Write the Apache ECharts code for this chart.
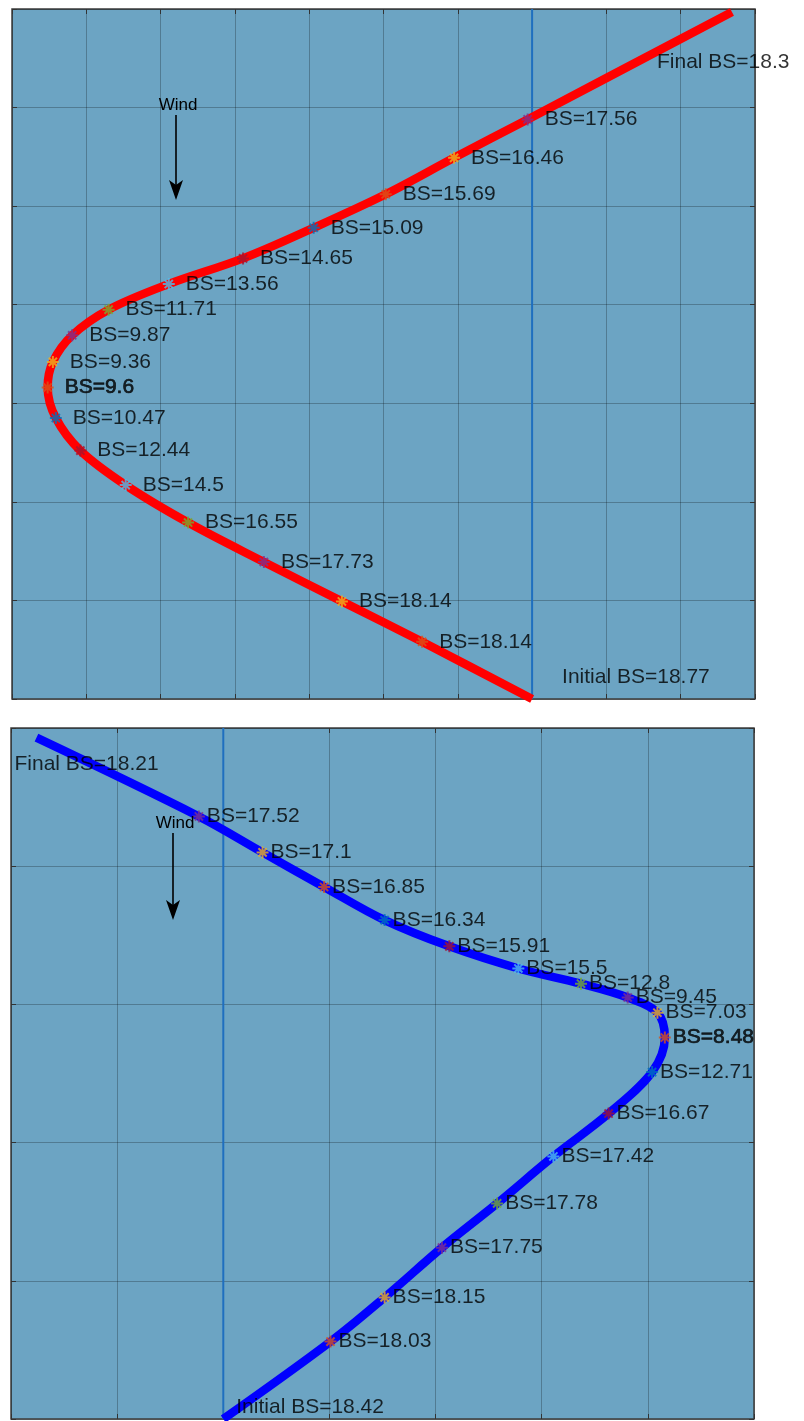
<!DOCTYPE html>
<html>
<head>
<meta charset="utf-8">
<title>Boat speed along the tack</title>
<script src="https://cdn.jsdelivr.net/npm/echarts@6/dist/echarts.min.js"></script>
<style>
  html, body { margin: 0; padding: 0; background: #ffffff; }
  #chart { width: 804px; height: 1421px; }
</style>
</head>
<body>
<div id="chart"></div>
<script>
// Upper manoeuvre (red track): positions in grid units, start -> finish
const upperX  = [7.00, 5.52, 4.44, 3.39, 2.37, 1.53, 0.92, 0.59, 0.48, 0.55, 0.81, 1.30, 2.11, 3.11, 4.06, 5.03, 5.95, 6.94, 9.69];
const upperY  = [0.00, 0.58, 0.99, 1.39, 1.79, 2.17, 2.52, 2.85, 3.16, 3.42, 3.69, 3.95, 4.21, 4.47, 4.78, 5.12, 5.49, 5.88, 6.97];
const upperBS = [18.77, 18.14, 18.14, 17.73, 16.55, 14.5, 12.44, 10.47, 9.6, 9.36, 9.87, 11.71, 13.56, 14.65, 15.09, 15.69, 16.46, 17.56, 18.3];

// Lower manoeuvre (blue track): positions in grid units, start -> finish
const lowerX  = [2.00, 3.01, 3.52, 4.06, 4.58, 5.11, 5.63, 6.04, 6.16, 6.09, 5.81, 5.37, 4.78, 4.13, 3.52, 2.95, 2.37, 1.77, 0.24];
const lowerY  = [0.00, 0.56, 0.88, 1.24, 1.56, 1.90, 2.21, 2.51, 2.76, 2.94, 3.05, 3.15, 3.26, 3.42, 3.61, 3.85, 4.10, 4.36, 4.93];
const lowerBS = [18.42, 18.03, 18.15, 17.75, 17.78, 17.42, 16.67, 12.71, 8.48, 7.03, 9.45, 12.8, 15.5, 15.91, 16.34, 16.85, 17.1, 17.52, 18.21];

// Axis extents (grid cells) of each panel
const upperXMax = 10, upperYMax = 7;
const lowerXMax = 7,  lowerYMax = 5;

// Marker colour cycle
const markerColors = ['#0072BD', '#D95319', '#EDB120', '#7E2F8E', '#77AC30', '#4DBEEE', '#A2142F'];
const asterisk = 'path://M5,0L5,10M0,5L10,5M1.6,1.6L8.4,8.4M1.6,8.4L8.4,1.6';
const FONT = '"Liberation Sans", Arial, Helvetica, sans-serif';

const chart = echarts.init(document.getElementById('chart'), null, { renderer: 'canvas' });

const gridRects = [
  { left: 12, top: 9,   width: 743, height: 690 },
  { left: 11, top: 728, width: 743, height: 691 }
];

// each panel gets a main axis plus a mirrored one so ticks show on all four edges
function axisPair(gi, max, dim) {
  const base = {
    gridIndex: gi, type: 'value', min: 0, max: max, interval: 1,
    axisLine: { show: false, onZero: false },
    axisLabel: { show: false },
    axisTick: { show: true, inside: true, length: 5, lineStyle: { color: '#333', width: 1 } }
  };
  return [
    Object.assign({}, base, {
      position: dim === 'x' ? 'bottom' : 'left',
      splitLine: { show: true, lineStyle: { color: 'rgba(0,0,0,0.25)', width: 1 } }
    }),
    Object.assign({}, base, {
      position: dim === 'x' ? 'top' : 'right',
      splitLine: { show: false }
    })
  ];
}

function panelSeries(gi, X, Y, BS, yMax, trackColor, labelGap, heavyIdx, endOffsets) {
  const ax = { xAxisIndex: gi * 2, yAxisIndex: gi * 2 };
  const n = X.length;
  const series = [];

  // vertical reference line through the starting position
  series.push(Object.assign({
    type: 'line', data: [[X[0], 0], [X[0], yMax]], symbol: 'none', silent: true, z: 2,
    lineStyle: { color: '#1F6FBF', width: 2 }
  }, ax));

  // boat track
  series.push(Object.assign({
    type: 'line', data: X.map((x, i) => [x, Y[i]]), symbol: 'none', smooth: 0.35,
    clip: false, z: 3, lineStyle: { color: trackColor, width: 8.5, cap: 'butt', join: 'round' }
  }, ax));

  // speed samples along the track
  const marks = [];
  for (let i = 1; i < n - 1; i++) {
    const c = markerColors[i % markerColors.length];
    const item = {
      value: [X[i], Y[i], BS[i]],
      itemStyle: { color: c, borderColor: c, borderWidth: 2 }
    };
    if (i === heavyIdx) {
      item.label = { textBorderColor: '#000', textBorderWidth: 0.7 };
    }
    marks.push(item);
  }
  series.push(Object.assign({
    type: 'scatter', data: marks, symbol: asterisk, symbolSize: 12, z: 5, clip: false,
    label: {
      show: true, position: 'right', distance: labelGap,
      formatter: p => 'BS=' + p.value[2],
      fontFamily: FONT, fontSize: 21, color: '#000'
    }
  }, ax));

  // start / finish annotations
  const ends = [
    { value: [X[0], Y[0], BS[0]], label: { position: endOffsets[0], formatter: p => 'Initial BS=' + p.value[2] } },
    { value: [X[n - 1], Y[n - 1], BS[n - 1]], label: { position: endOffsets[1], formatter: p => 'Final BS=' + p.value[2] } }
  ];
  series.push(Object.assign({
    type: 'scatter', data: ends, symbolSize: 0, z: 6, clip: false, silent: true,
    label: {
      show: true, align: 'left', verticalAlign: 'middle',
      fontFamily: FONT, fontSize: 21, color: '#000'
    }
  }, ax));
  return series;
}

function windArrow(cx, textY, y1, y2) {
  return [
    { type: 'text', x: cx + 2, y: textY, z: 20,
      style: { text: 'Wind', font: '17px ' + FONT, fill: '#000', align: 'center', verticalAlign: 'middle' } },
    { type: 'line', z: 20, shape: { x1: cx, y1: y1, x2: cx, y2: y2 - 14 },
      style: { stroke: '#000', lineWidth: 1.6 } },
    { type: 'polygon', z: 20, shape: { points: [[cx - 7, y2 - 20], [cx, y2], [cx + 7, y2 - 20], [cx, y2 - 15]] },
      style: { fill: '#000' } }
  ];
}

const xAxes = axisPair(0, upperXMax, 'x').concat(axisPair(1, lowerXMax, 'x'));
const yAxes = axisPair(0, upperYMax, 'y').concat(axisPair(1, lowerYMax, 'y'));

chart.setOption({
  animation: false,
  backgroundColor: '#ffffff',
  grid: gridRects.map(r => Object.assign({
    show: true, backgroundColor: '#6CA4C3', borderColor: '#3c3c3c', borderWidth: 1.5
  }, r)),
  xAxis: xAxes,
  yAxis: yAxes,
  series: []
    .concat(panelSeries(0, upperX, upperY, upperBS, upperYMax, '#FF0000', 10, 8, [[30, -22], [-75, 50]]))
    .concat(panelSeries(1, lowerX, lowerY, lowerBS, lowerYMax, '#0000FF', 1, 8, [[13, -12], [-22, 27]])),
  graphic: windArrow(176, 105, 115, 200).concat(windArrow(173, 823, 833, 920))
});
</script>
</body>
</html>
